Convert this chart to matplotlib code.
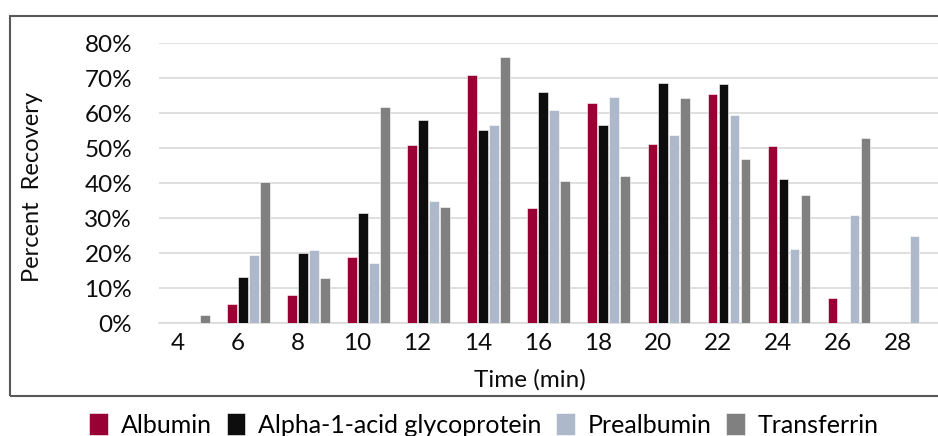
import numpy as np
import matplotlib
matplotlib.use("Agg")
import matplotlib.pyplot as plt
from matplotlib.patches import Rectangle
from matplotlib.ticker import PercentFormatter
from matplotlib.transforms import ScaledTranslation

plt.rcParams['font.family'] = ['Lato', 'DejaVu Sans']

# data (fraction recovered)
times = ["4", "6", "8", "10", "12", "14", "16", "18", "20", "22", "24", "26", "28"]
albumin = [np.nan, 0.054, 0.080, 0.189, 0.508, 0.709, 0.329, 0.628, 0.511, 0.655, 0.505, 0.071, np.nan]
alpha1 = [np.nan, 0.133, 0.200, 0.315, 0.581, 0.552, 0.660, 0.566, 0.686, 0.684, 0.411, np.nan, np.nan]
prealbumin = [np.nan, 0.194, 0.209, 0.172, 0.350, 0.566, 0.610, 0.645, 0.537, 0.595, 0.212, 0.309, 0.250]
transferrin = [0.022, 0.402, 0.128, 0.617, 0.332, 0.760, 0.405, 0.420, 0.643, 0.470, 0.365, 0.528, np.nan]

series = [("Albumin", albumin, "#990033"),
          ("Alpha-1-acid glycoprotein", alpha1, "#0d0d0d"),
          ("Prealbumin", prealbumin, "#adb9ca"),
          ("Transferrin", transferrin, "#808080")]

fig = plt.figure(figsize=(9.38, 4.36), dpi=100)
ax = fig.add_axes([0.169, 0.259, 0.832, 0.642])

x = np.arange(len(times))
step = 0.183
for i, (name, vals, col) in enumerate(series):
    ax.bar(x + (i - 1.5) * step, vals, width=0.16, color=col, label=name,
           edgecolor="white", linewidth=0.4, zorder=3)

ax.set_xlim(-0.5, 12.5)
ax.set_ylim(0, 0.8)
ax.set_yticks(np.arange(0, 0.81, 0.1))
ax.yaxis.set_major_formatter(PercentFormatter(1.0, decimals=0))
ax.grid(axis="y", color="#d9d9d9", linewidth=1.2, zorder=0)
ax.set_axisbelow(True)
for s in ["top", "right", "left"]:
    ax.spines[s].set_visible(False)
ax.spines["bottom"].set_color("#d9d9d9")
ax.spines["bottom"].set_linewidth(1.2)

ax.set_xticks(x)
ax.set_xticklabels(times)
ax.tick_params(axis="both", length=0, labelsize=17.5, colors="#0d0d0d")
ax.tick_params(axis="x", pad=7)
ax.tick_params(axis="y", pad=19)
# category labels sit a bit left of the bar clusters in the original
shift = ScaledTranslation(-11 / 100, 0, fig.dpi_scale_trans)
for lbl in ax.get_xticklabels():
    lbl.set_transform(lbl.get_transform() + shift)

fig.text(0.565, 1 - 380 / 436, "Time (min)", ha="center", va="center", fontsize=17.5, color="#0d0d0d")
fig.text(33 / 938, 1 - 187 / 436, "Percent  Recovery", rotation=90, ha="center", va="center",
         fontsize=17, color="#0d0d0d")

# chart frame (runs off the right edge)
fig.patches.append(Rectangle((10 / 938, 1 - 396 / 436), 1.0, (396 - 16) / 436,
                             transform=fig.transFigure, fill=False,
                             edgecolor="#595959", linewidth=1.5))

fig.legend(loc="center", bbox_to_anchor=(484 / 938, 1 - 425 / 436), ncol=4, frameon=False,
           fontsize=18, handlelength=0.75, handleheight=0.95, handletextpad=0.5,
           columnspacing=0.6, borderaxespad=0)

fig.savefig("out.png", dpi=100)
